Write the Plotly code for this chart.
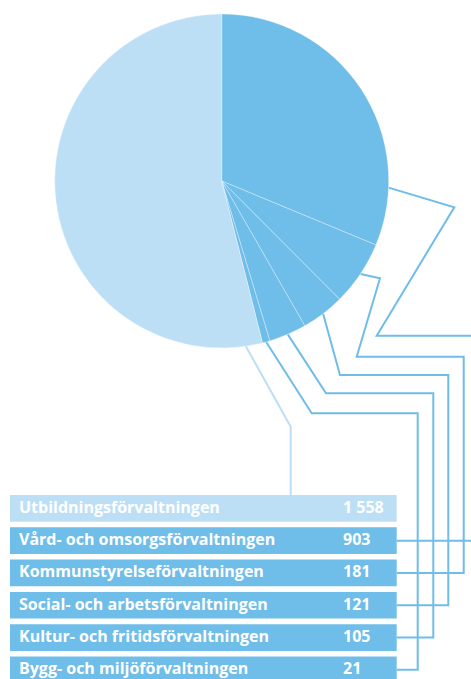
import math
import plotly.graph_objects as go

# ---- data ----
categories = [
    "Vård- och omsorgsförvaltningen",
    "Kommunstyrelseförvaltningen",
    "Social- och arbetsförvaltningen",
    "Kultur- och fritidsförvaltningen",
    "Bygg- och miljöförvaltningen",
    "Utbildningsförvaltningen",
]
values = [903, 181, 121, 105, 21, 1558]
# order of rows in the table (indices into categories)
row_order = [5, 0, 1, 2, 3, 4]

# ---- style ----
W, H = 471, 679
DARK = "#6fbde9"
LIGHT = "#bddff6"
slice_colors = [DARK, DARK, DARK, DARK, DARK, LIGHT]
FONT = "Open Sans"

cx, cy, R = 221.7, 181.0, 167.0
anchor_frac = [0.82, 0.5, 0.5, 0.5, 0.5, 0.03]

row_x0, row_x1 = 10, 396.7
row_top0, row_pitch, row_h = 495.0, 32.3, 26.7
text_x, val_x = 17, 341

fig = go.Figure()
fig.add_trace(go.Pie(
    labels=categories, values=values, sort=False, direction="clockwise",
    rotation=0, textinfo="none", hoverinfo="label+value",
    marker=dict(colors=slice_colors, line=dict(color="rgba(255,255,255,0.55)", width=0.6)),
    domain=dict(x=[(cx - R) / W, (cx + R) / W], y=[1 - (cy + R) / H, 1 - (cy - R) / H]),
    showlegend=False,
))

total = sum(values)
cum = 0
anchors = []
for i, v in enumerate(values):
    a = (cum + v * anchor_frac[i]) / total * 2 * math.pi
    anchors.append((cx + R * math.sin(a), cy - R * math.cos(a)))
    cum += v

def row_center(cat_idx):
    r = row_order.index(cat_idx)
    return row_top0 + r * row_pitch + row_h / 2

# routing of connectors (pixel coordinates) per category index
routes = {
    0: [(454.3, 207.3), (376.7, 335.7), (490, 335.7), (490, row_center(0)), (row_x1, row_center(0))],
    1: [(380, 278.3), (356.7, 356.7), (463.7, 356.7), (463.7, row_center(1)), (row_x1, row_center(1))],
    2: [(340, 375), (448.3, 375), (448.3, row_center(2)), (row_x1, row_center(2))],
    3: [(326, 393.3), (433.3, 393.3), (433.3, row_center(3)), (row_x1, row_center(3))],
    4: [(311.7, 413.3), (417.7, 413.3), (417.7, row_center(4)), (row_x1, row_center(4))],
    5: [(290.7, 426.7), (290.7, row_top0)],
}

shapes = []
for i, pts in routes.items():
    allpts = [anchors[i]] + pts
    path = "M " + " L ".join(f"{x:.2f},{y:.2f}" for x, y in allpts)
    shapes.append(dict(type="path", path=path, xref="x", yref="y",
                       line=dict(color=slice_colors[i], width=2), layer="below"))

annotations = []
for r, ci in enumerate(row_order):
    y0 = row_top0 + r * row_pitch
    shapes.append(dict(type="rect", xref="x", yref="y", x0=row_x0, x1=row_x1,
                       y0=y0, y1=y0 + row_h, fillcolor=slice_colors[ci],
                       line=dict(width=0), layer="above"))
    yc = y0 + row_h / 2 - 1.5
    annotations.append(dict(x=text_x, y=yc, xref="x", yref="y", text=categories[ci],
                            showarrow=False, xanchor="left", yanchor="middle",
                            font=dict(family=FONT, size=16, color="white", weight=700)))
    annotations.append(dict(x=val_x, y=yc, xref="x", yref="y",
                            text=f"{values[ci]:,}".replace(",", " "),
                            showarrow=False, xanchor="left", yanchor="middle",
                            font=dict(family=FONT, size=16, color="white", weight=700)))

fig.update_layout(
    width=W, height=H, margin=dict(l=0, r=0, t=0, b=0),
    paper_bgcolor="white", plot_bgcolor="white",
    xaxis=dict(range=[0, W], visible=False, fixedrange=True),
    yaxis=dict(range=[H, 0], visible=False, fixedrange=True),
    shapes=shapes, annotations=annotations, showlegend=False,
)

fig.write_html("out.html", config={"displayModeBar": False},
               post_script="document.body.style.margin='0';document.body.style.overflow='hidden';")
